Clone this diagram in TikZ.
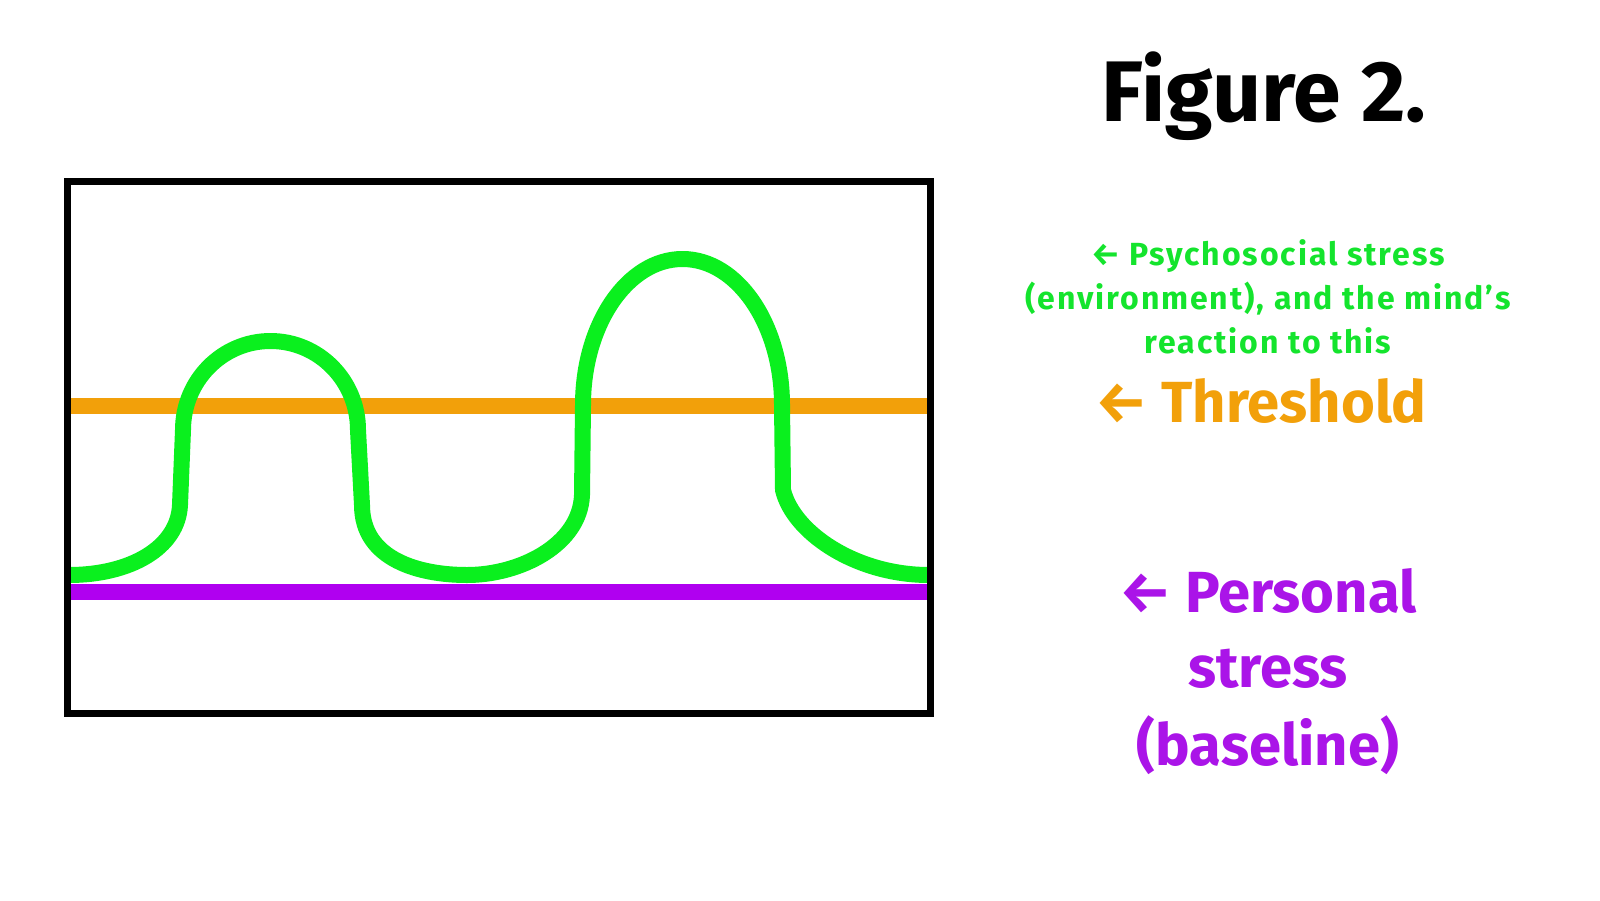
\documentclass[tikz,border=0pt]{standalone}
\usepackage{fontspec}
\setmainfont{Fira Sans}
\definecolor{cgreen}{RGB}{10,240,30}
\definecolor{ctgreen}{RGB}{20,228,45}
\definecolor{corange}{RGB}{242,160,10}
\definecolor{cpurple}{RGB}{176,0,240}
\definecolor{ctpurple}{RGB}{170,20,232}
\begin{document}
\begin{tikzpicture}[x=1pt,y=-1pt,
  lbl/.style={anchor=base,inner sep=0pt,font=\bfseries},
  small/.style={lbl,text=ctgreen,font=\bfseries\fontsize{32}{44}\selectfont\addfontfeatures{LetterSpace=6}},
  big/.style={lbl,font=\bfseries\fontsize{58}{76}\selectfont},
  frame/.style={draw=black,line width=7pt},
  level/.style={line width=16pt},
  curve/.style={draw=cgreen,line width=16pt,line join=round}]
\useasboundingbox (0,0) rectangle (1600,900);
% levels
\coordinate (tl) at (67,406);
\coordinate (tr) at (931,406);
\coordinate (bl) at (67,592);
\coordinate (br) at (931,592);
\draw[level,draw=corange] (tl) -- (tr);
\draw[level,draw=cpurple] (bl) -- (br);
% green curve
\coordinate (g0) at (69,575);
\coordinate (g1) at (180,505);
\coordinate (g2) at (183,430);
\coordinate (g3) at (270.5,341);
\coordinate (g4) at (358,430);
\coordinate (g5) at (362,505);
\coordinate (g6) at (467,575);
\coordinate (g7) at (582,495);
\coordinate (g8) at (583,405);
\coordinate (g9) at (682.5,259);
\coordinate (g10) at (782,405);
\coordinate (g11) at (783,490);
\coordinate (g12) at (929,575);
\draw[curve] (g0) .. controls (130,575) and (178,548) .. (g1)
  -- (g2) .. controls (183,380.8) and (222.2,341) .. (g3)
  .. controls (318.8,341) and (358,380.8) .. (g4)
  -- (g5) .. controls (362,560) and (420,575) .. (g6)
  .. controls (520,575) and (580,545) .. (g7)
  -- (g8) .. controls (583,324.5) and (627.5,259) .. (g9)
  .. controls (737.5,259) and (782,324.5) .. (g10)
  -- (g11) .. controls (793,532) and (855,575) .. (g12);
% frame
\draw[frame] (67.5,181.5) rectangle (930.5,713);
% texts
\node[lbl,font=\bfseries\fontsize{86}{100}\selectfont] (title) at (1264,121) {Figure 2.};
\node[small] (ps1) at (1268,265) {← Psychosocial stress};
\node[small] (ps2) at (1268,309) {(environment), and the mind’s};
\node[small] (ps3) at (1268,353) {reaction to this};
\node[big,text=corange] (th) at (1261,422) {← Threshold};
\node[big,text=ctpurple] (pe1) at (1268,612) {← Personal};
\node[big,text=ctpurple] (pe2) at (1268,687) {stress};
\node[big,text=ctpurple] (pe3) at (1268,765) {(baseline)};
\end{tikzpicture}
\end{document}
